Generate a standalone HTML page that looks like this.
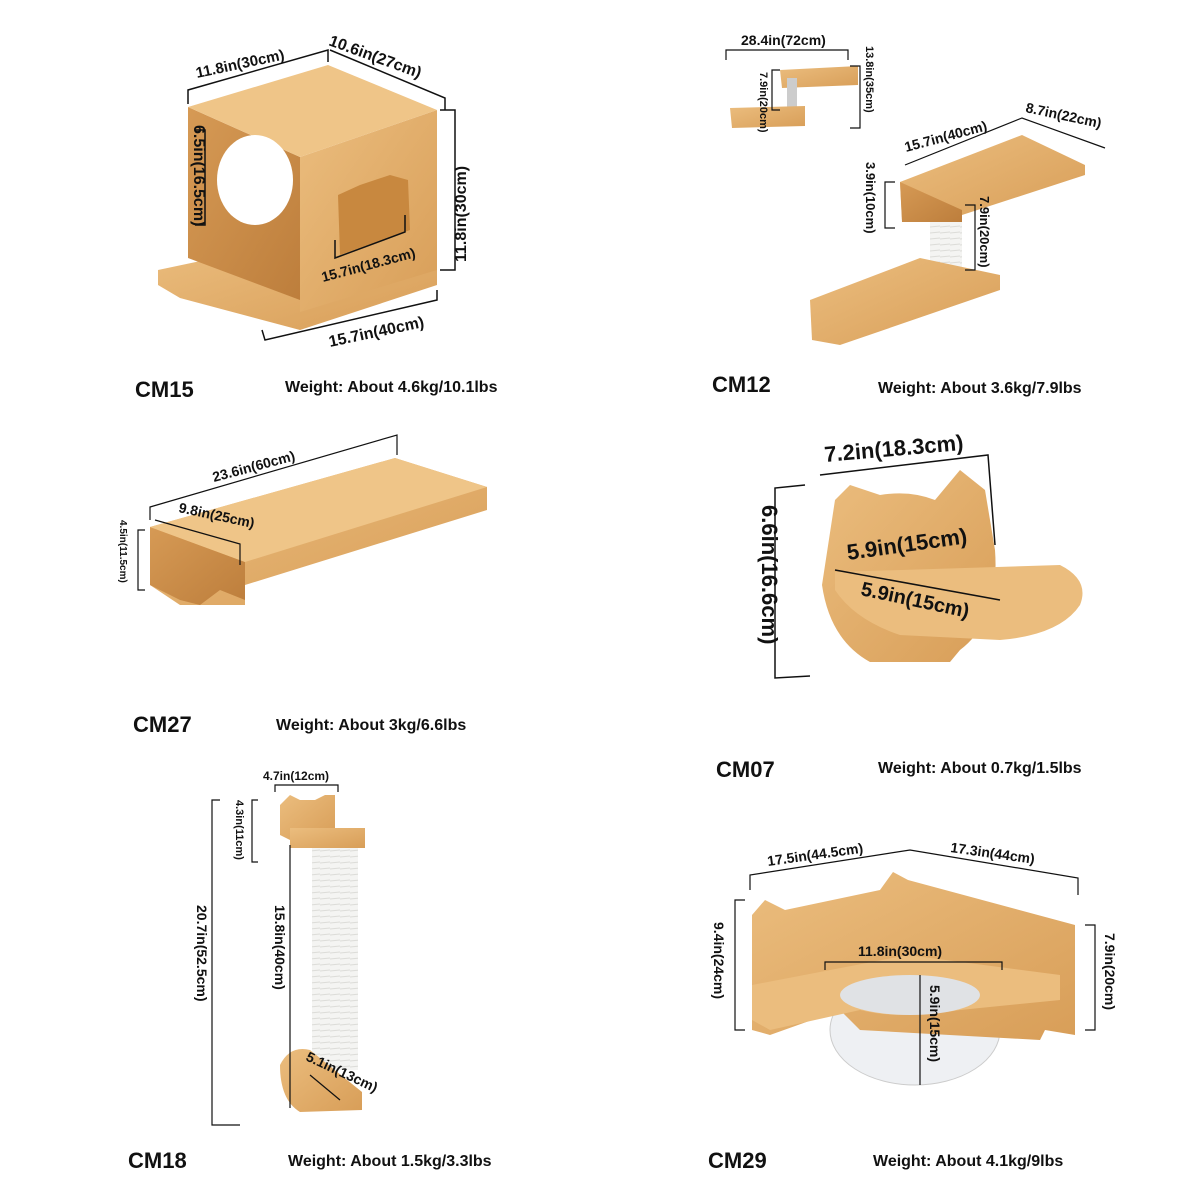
<!DOCTYPE html>
<html><head><meta charset="utf-8"><style>
html,body{margin:0;padding:0;background:#fff;}
svg{display:block;}
text{font-family:"Liberation Sans",Arial,sans-serif;font-weight:bold;fill:#111;}
</style></head><body>
<svg width="1200" height="1200" viewBox="0 0 1200 1200" xmlns="http://www.w3.org/2000/svg">
<defs>
<linearGradient id="w" x1="0" y1="0" x2="1" y2="1"><stop offset="0" stop-color="#ebbd7e"/><stop offset="1" stop-color="#d89e58"/></linearGradient>
<linearGradient id="wd" x1="0" y1="0" x2="1" y2="1"><stop offset="0" stop-color="#d69a55"/><stop offset="1" stop-color="#bd7e3c"/></linearGradient>
<pattern id="rope" width="10" height="6" patternUnits="userSpaceOnUse"><rect width="10" height="6" fill="#f4f4f2"/><line x1="0" y1="5" x2="10" y2="4" stroke="#dcdcd8" stroke-width="1"/></pattern>
</defs>
<rect width="1200" height="1200" fill="#fff"/>
<!-- CM15 shapes -->
<polygon points="158,270 300,240 437,262 437,285 300,330 180,298 158,285" fill="url(#w)"/>
<polygon points="188,107 300,157 300,300 188,258" fill="url(#wd)"/>
<polygon points="300,157 437,110 437,270 300,312" fill="url(#w)"/>
<polygon points="188,107 328,65 437,110 300,157" fill="#efc588"/>
<ellipse cx="255" cy="180" rx="38" ry="45" fill="#fff"/>
<polygon points="338,195 360,185 390,175 408,180 410,230 340,255" fill="#c8883f"/>
<g stroke="#111" stroke-width="1.5" fill="none">
<polyline points="188,104 188,90 328,50 328,62"/>
<polyline points="330,50 445,98 445,110"/>
<polyline points="440,110 455,110 455,270 440,270"/>
<polyline points="262,330 265,340 437,300 437,290"/>
<polyline points="195,130 205,130 205,225 195,225"/>
<polyline points="335,240 335,258 405,232 405,215"/>
</g>
<text x="197" y="78" font-size="15" transform="rotate(-12 197 78)">11.8in(30cm)</text>
<text x="328" y="45" font-size="16" transform="rotate(20 328 45)">10.6in(27cm)</text>
<text x="466" y="262" font-size="16" transform="rotate(-90 466 262)">11.8in(30cm)</text>
<text x="330" y="347" font-size="16" transform="rotate(-12 330 347)">15.7in(40cm)</text>
<text x="194" y="125" font-size="16" transform="rotate(90 194 125)">6.5in(16.5cm)</text>
<text x="323" y="282" font-size="14" transform="rotate(-15 323 282)">15.7in(18.3cm)</text>
<text x="135" y="397" font-size="22">CM15</text>
<text x="285" y="392" font-size="16">Weight: About 4.6kg/10.1lbs</text>

<!-- CM12 small -->
<polygon points="780,70 858,66 858,85 782,88" fill="url(#w)"/>
<rect x="787" y="78" width="10" height="30" fill="#ccc"/>
<polygon points="730,108 805,106 805,126 732,128" fill="url(#w)"/>
<g stroke="#111" stroke-width="1.2" fill="none">
<polyline points="726,60 726,50 848,50 848,60"/>
<polyline points="850,66 860,66 860,128 850,128"/>
<polyline points="780,70 772,70 772,110 780,110"/>
</g>
<text x="741" y="45" font-size="14">28.4in(72cm)</text>
<text x="866" y="46" font-size="11" transform="rotate(90 866 46)">13.8in(35cm)</text>
<text x="760" y="72" font-size="11" transform="rotate(90 760 72)">7.9in(20cm)</text>
<!-- CM12 big -->
<rect x="930" y="200" width="32" height="80" fill="url(#rope)"/>
<polygon points="810,300 920,258 1000,275 1000,290 840,345 812,340" fill="url(#w)"/>
<polygon points="900,182 1022,135 1085,165 1085,175 962,215 902,220" fill="url(#w)"/>
<polygon points="900,182 962,210 962,222 902,222" fill="url(#wd)"/>
<g stroke="#111" stroke-width="1.2" fill="none">
<polyline points="905,165 1022,118 1105,148"/>
<polyline points="895,182 885,182 885,228 895,228"/>
<polyline points="965,205 975,205 975,270 965,270"/>
</g>
<text x="906" y="152" font-size="14" transform="rotate(-15 906 152)">15.7in(40cm)</text>
<text x="1025" y="112" font-size="14" transform="rotate(12 1025 112)">8.7in(22cm)</text>
<text x="866" y="162" font-size="13" transform="rotate(90 866 162)">3.9in(10cm)</text>
<text x="980" y="196" font-size="13" transform="rotate(90 980 196)">7.9in(20cm)</text>
<text x="712" y="392" font-size="22">CM12</text>
<text x="878" y="393" font-size="16">Weight: About 3.6kg/7.9lbs</text>

<!-- CM27 -->
<polygon points="150,527 395,458 487,487 487,510 245,585 245,605 180,605 150,585" fill="url(#w)"/>
<polygon points="150,527 245,562 245,600 220,590 200,605 180,600 150,585" fill="url(#wd)"/>
<polygon points="150,527 395,458 487,487 245,562" fill="#efc588"/>
<g stroke="#111" stroke-width="1.2" fill="none">
<polyline points="150,520 150,507 397,435 397,455"/>
<polyline points="155,520 240,544 240,565"/>
<polyline points="145,530 138,530 138,590 145,590"/>
</g>
<text x="214" y="482" font-size="14" transform="rotate(-15 214 482)">23.6in(60cm)</text>
<text x="178" y="512" font-size="14" transform="rotate(12 178 512)">9.8in(25cm)</text>
<text x="120" y="520" font-size="10" transform="rotate(90 120 520)">4.5in(11.5cm)</text>
<text x="133" y="732" font-size="22">CM27</text>
<text x="276" y="730" font-size="16">Weight: About 3kg/6.6lbs</text>

<!-- CM07 -->
<path d="M835,500 L850,485 L880,495 Q910,490 935,500 L960,470 L985,490 L995,550 Q1000,620 960,650 L950,662 L870,662 Q830,640 822,585 Z" fill="url(#w)"/>
<path d="M835,572 L1060,565 Q1090,580 1080,605 Q1060,635 1000,640 L900,635 Q855,620 835,590 Z" fill="#ebbd7e"/>
<g stroke="#111" stroke-width="1.5" fill="none">
<polyline points="820,475 988,455 995,545"/>
<polyline points="805,485 775,488 775,678 810,676"/>
<polyline points="835,570 1000,600"/>
</g>
<text x="825" y="462" font-size="22" transform="rotate(-5 825 462)">7.2in(18.3cm)</text>
<text x="762" y="505" font-size="22" transform="rotate(90 762 505)">6.6in(16.6cm)</text>
<text x="848" y="560" font-size="22" transform="rotate(-8 848 560)">5.9in(15cm)</text>
<text x="860" y="595" font-size="20" transform="rotate(12 860 595)">5.9in(15cm)</text>
<text x="716" y="777" font-size="22">CM07</text>
<text x="878" y="773" font-size="16">Weight: About 0.7kg/1.5lbs</text>

<!-- CM18 -->
<path d="M280,805 L290,795 L300,800 L315,800 L325,795 L335,795 L335,830 L290,840 L280,835 Z" fill="url(#w)"/>
<rect x="312" y="845" width="46" height="225" fill="url(#rope)"/>
<rect x="290" y="828" width="75" height="20" fill="url(#w)"/>
<path d="M280,1065 Q290,1045 310,1050 L362,1092 L362,1110 L300,1112 Q280,1100 280,1065 Z" fill="url(#w)"/>
<g stroke="#111" stroke-width="1.2" fill="none">
<polyline points="275,792 275,785 338,785 338,792"/>
<polyline points="258,800 252,800 252,862 258,862"/>
<polyline points="290,845 290,1108"/>
<polyline points="220,800 212,800 212,1125 240,1125"/>
<polyline points="310,1075 340,1100"/>
</g>
<text x="263" y="780" font-size="12">4.7in(12cm)</text>
<text x="236" y="800" font-size="11" transform="rotate(90 236 800)">4.3in(11cm)</text>
<text x="275" y="905" font-size="14" transform="rotate(90 275 905)">15.8in(40cm)</text>
<text x="197" y="905" font-size="14" transform="rotate(90 197 905)">20.7in(52.5cm)</text>
<text x="305" y="1060" font-size="14" transform="rotate(25 305 1060)">5.1in(13cm)</text>
<text x="128" y="1168" font-size="22">CM18</text>
<text x="288" y="1166" font-size="16">Weight: About 1.5kg/3.3lbs</text>

<!-- CM29 -->
<ellipse cx="915" cy="1030" rx="85" ry="55" fill="#eef0f3" stroke="#ccc"/>
<path d="M752,915 L765,900 L785,910 L880,890 L893,872 L908,880 L1075,925 L1075,1035 L1045,1030 L1040,1040 L860,1030 L840,1010 L770,1035 L752,1030 Z" fill="url(#w)"/>
<path d="M752,985 L908,955 L1060,975 L1060,1000 L960,1010 Q900,1020 860,1010 L770,1030 L752,1020 Z" fill="#ebbd7e"/>
<ellipse cx="910" cy="995" rx="70" ry="20" fill="#e0e2e5"/>
<g stroke="#111" stroke-width="1.2" fill="none">
<polyline points="750,890 750,875 910,850 1078,878 1078,895"/>
<polyline points="745,900 735,900 735,1030 745,1030"/>
<polyline points="1085,925 1095,925 1095,1030 1085,1030"/>
<polyline points="825,970 825,962 1002,962 1002,970"/>
<polyline points="920,975 920,1085"/>
</g>
<text x="768" y="866" font-size="14" transform="rotate(-8 768 866)">17.5in(44.5cm)</text>
<text x="950" y="852" font-size="14" transform="rotate(8 950 852)">17.3in(44cm)</text>
<text x="714" y="922" font-size="14" transform="rotate(90 714 922)">9.4in(24cm)</text>
<text x="1105" y="933" font-size="14" transform="rotate(90 1105 933)">7.9in(20cm)</text>
<text x="858" y="956" font-size="14">11.8in(30cm)</text>
<text x="930" y="985" font-size="14" transform="rotate(90 930 985)">5.9in(15cm)</text>
<text x="708" y="1168" font-size="22">CM29</text>
<text x="873" y="1166" font-size="16">Weight: About 4.1kg/9lbs</text>
</svg>
</body></html>
